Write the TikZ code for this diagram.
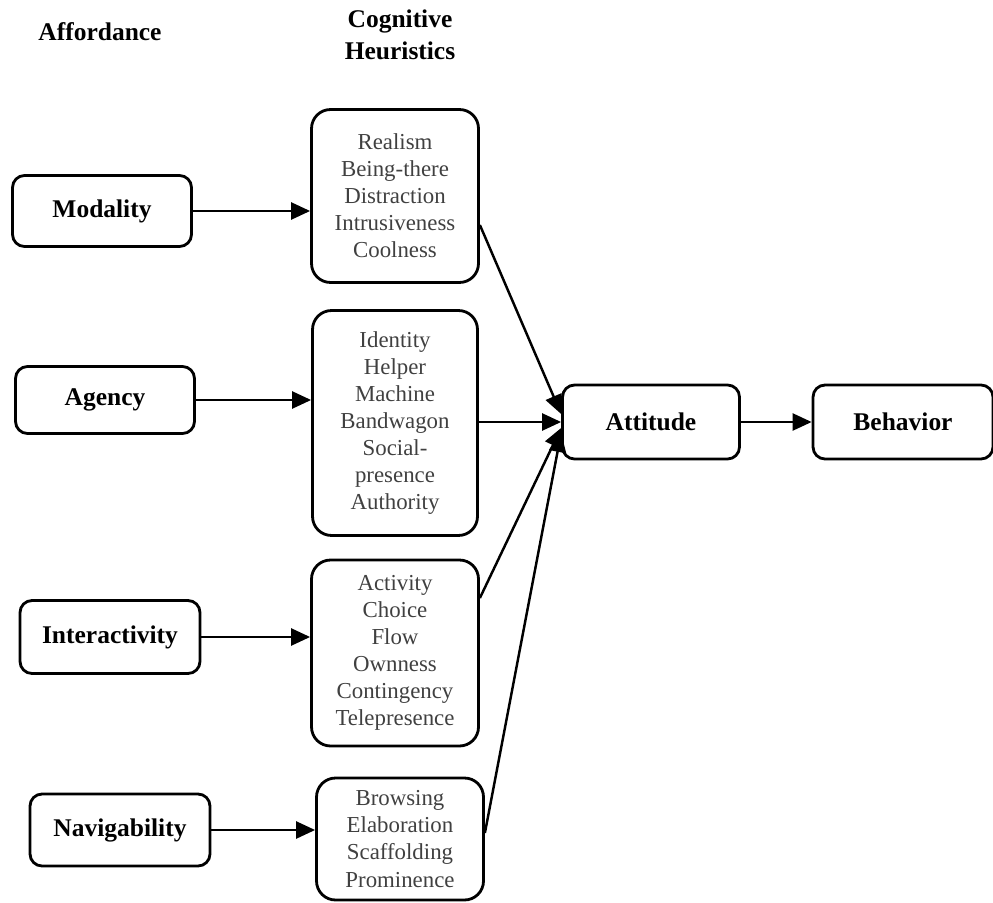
\documentclass[tikz,border=0pt]{standalone}
\usepackage{fontspec}
\setmainfont{Liberation Serif}
\usetikzlibrary{arrows.meta,calc,positioning}
\tikzset{
  afford/.style={draw,rounded corners=0.24cm,line width=1.6pt,minimum width=3.58cm,minimum height=1.42cm,align=center,font=\fontsize{14.5}{17}\selectfont\bfseries},
  heur/.style={draw,rounded corners=0.38cm,line width=1.6pt,minimum width=3.34cm,align=center,text=black!75,font=\fontsize{13}{15.4}\selectfont},
  title/.style={align=center,font=\fontsize{14.5}{18.2}\selectfont\bfseries}
}

\begin{document}
\begin{tikzpicture}[x=0.02cm,y=-0.02cm,>={Triangle[length=3.8mm,width=3.4mm]},line width=1.4pt]
  \useasboundingbox (0,0) rectangle (993,902);
  % column titles
  \node[title] (tA) at (100,32) {Affordance};
  \node[title] (tC) at (400,35) {Cognitive\\Heuristics};
  % affordances
  \node[afford] (mod) at (102,211) {Modality};
  \node[afford,minimum height=1.34cm] (agy) at (105,400) {Agency};
  \node[afford,minimum width=3.6cm,minimum height=1.46cm] (inter) at (110,637) {Interactivity};
  \node[afford,minimum width=3.6cm,minimum height=1.44cm] (nav) at (120,830) {Navigability};
  % heuristics
  \node[heur,minimum height=3.46cm] (h1) at (395,196) {Realism\\Being-there\\Distraction\\Intrusiveness\\Coolness};
  \node[heur,minimum height=4.5cm,minimum width=3.3cm] (h2) at (395,423) {Identity\\Helper\\Machine\\Bandwagon\\Social-\\presence\\Authority};
  \node[heur,minimum height=3.72cm] (h3) at (395,653) {Activity\\Choice\\Flow\\Ownness\\Contingency\\Telepresence};
  \node[heur,minimum height=2.44cm] (h4) at (400,839) {Browsing\\Elaboration\\Scaffolding\\Prominence};
  % outcome
  \node[afford,minimum width=3.54cm,minimum height=1.48cm] (att) at (651,422) {Attitude};
  \node[afford,minimum width=3.6cm,minimum height=1.48cm] (beh) at (903,422) {Behavior};
  % arrows
  \draw[->] (mod) -- (h1.west |- mod);
  \draw[->] (agy) -- (h2.west |- agy);
  \draw[->] (inter) -- (h3.west |- inter);
  \draw[->] (nav) -- (h4.west |- nav);
  \draw[->] ([yshift=-0.58cm]h1.east) -- ([yshift=0.16cm]att.west);
  \draw[->] (h2.east |- att.west) -- (att.west);
  \draw[->] ([yshift=1.1cm]h3.east) -- ([yshift=-0.12cm]att.west);
  \draw[->] ([yshift=0.12cm]h4.east) -- ([yshift=-0.22cm]att.west);
  \draw[->] (att) -- (beh);
\end{tikzpicture}
\end{document}
